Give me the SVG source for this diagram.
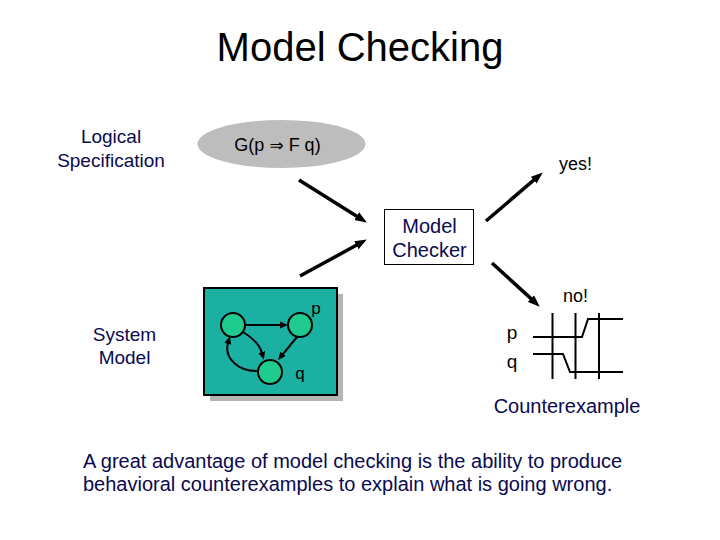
<svg xmlns="http://www.w3.org/2000/svg" width="720" height="540" viewBox="0 0 720 540">
  <style>
    text { font-family: "Liberation Sans", Arial, sans-serif; }
    .navy { fill: #0a0a50; }
    .blk { fill: #000000; }
    .big { stroke: #000; stroke-width: 3.5; fill: none; }
    .small { stroke: #000; stroke-width: 2; fill: none; }
    .node { fill: #1fcb8e; stroke: #000; stroke-width: 2; }
    .wave { stroke: #000; stroke-width: 2; fill: none; }
  </style>
  <defs>
    <marker id="ah" markerUnits="userSpaceOnUse" markerWidth="14" markerHeight="10" viewBox="0 -5 14 10" refX="2" refY="0" orient="auto">
      <path d="M0,-4.5 L12,0 L0,4.5 z" fill="#000"/>
    </marker>
    <marker id="sh" markerUnits="userSpaceOnUse" markerWidth="10" markerHeight="8" viewBox="0 -4 10 8" refX="1" refY="0" orient="auto">
      <path d="M0,-3.5 L8,0 L0,3.5 z" fill="#000"/>
    </marker>
  </defs>
  <rect width="720" height="540" fill="#ffffff"/>

  <text x="360" y="61" font-size="40" text-anchor="middle" class="blk">Model Checking</text>

  <g id="logical-spec-label">
    <text x="111" y="143" font-size="19" text-anchor="middle" class="navy">Logical</text>
    <text x="111" y="167" font-size="19" text-anchor="middle" class="navy">Specification</text>
  </g>

  <g id="formula">
    <ellipse cx="281.5" cy="144" rx="84" ry="24" fill="#bdbdbd"/>
    <text x="277.5" y="151" font-size="18" text-anchor="middle" class="blk">G(p <tspan font-family="'DejaVu Sans', sans-serif" font-size="17">⇒</tspan> F q)</text>
  </g>

  <g id="system-model-label">
    <text x="124.5" y="341" font-size="19" text-anchor="middle" class="navy">System</text>
    <text x="124.5" y="364" font-size="19" text-anchor="middle" class="navy">Model</text>
  </g>

  <g id="system-model">
    <rect x="210" y="294" width="133" height="107" fill="#b4b4b4"/>
    <rect x="204" y="288" width="133" height="107" fill="#1ab0a2" stroke="#000" stroke-width="2"/>
    <g id="graph-edges">
      <line x1="245" y1="325" x2="281" y2="325" class="small" marker-end="url(#sh)"/>
      <line x1="297" y1="337" x2="282.5" y2="354.6" class="small" marker-end="url(#sh)"/>
      <path d="M243,332 Q259,342 262,353" class="small" marker-end="url(#sh)"/>
      <path d="M259,371 C238,372 224,358 228,343" class="small" marker-end="url(#sh)"/>
    </g>
    <g id="s0"><circle cx="233" cy="325" r="12" class="node"/></g>
    <g id="s1"><circle cx="300" cy="325" r="12" class="node"/></g>
    <g id="s2"><circle cx="270" cy="372" r="12" class="node"/></g>
    <text x="316" y="314" font-size="17" text-anchor="middle" class="blk">p</text>
    <text x="300" y="379" font-size="17" text-anchor="middle" class="blk">q</text>
  </g>

  <g id="model-checker">
    <rect x="384.5" y="209.5" width="89" height="55" fill="#fff" stroke="#000" stroke-width="1"/>
    <text x="429.5" y="233" font-size="20" text-anchor="middle" class="navy">Model</text>
    <text x="429.5" y="257" font-size="20" text-anchor="middle" class="navy">Checker</text>
  </g>

  <g id="yes">
    <text x="575.5" y="170" font-size="18" text-anchor="middle" class="blk">yes!</text>
  </g>
  <g id="no">
    <text x="575.5" y="302" font-size="18" text-anchor="middle" class="blk">no!</text>
  </g>

  <g id="counterexample">
    <text x="512" y="339" font-size="19" text-anchor="middle" class="blk">p</text>
    <text x="512" y="368" font-size="19" text-anchor="middle" class="blk">q</text>
    <line x1="552.5" y1="313" x2="552.5" y2="379" class="wave"/>
    <line x1="575.5" y1="313" x2="575.5" y2="379" class="wave"/>
    <line x1="599" y1="313" x2="599" y2="379" class="wave"/>
    <polyline points="533,337 582,337 588,319 623,319" class="wave"/>
    <polyline points="533,354 563,354 570,372 623,372" class="wave"/>
    <text x="567" y="413" font-size="20" text-anchor="middle" class="navy">Counterexample</text>
  </g>

  <g id="connectors">
    <line x1="299" y1="180" x2="358.4" y2="217.2" class="big" marker-end="url(#ah)"/>
    <line x1="300" y1="276" x2="358.1" y2="244.3" class="big" marker-end="url(#ah)"/>
    <line x1="486" y1="221" x2="535.2" y2="178.9" class="big" marker-end="url(#ah)"/>
    <line x1="492" y1="263" x2="532.4" y2="299.9" class="big" marker-end="url(#ah)"/>
  </g>

  <g id="caption">
    <text x="83" y="468" font-size="20" class="navy">A great advantage of model checking is the ability to produce</text>
    <text x="83" y="491" font-size="20" class="navy">behavioral counterexamples to explain what is going wrong.</text>
  </g>
</svg>
